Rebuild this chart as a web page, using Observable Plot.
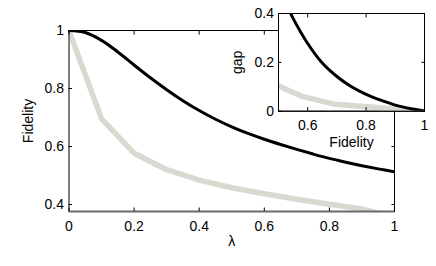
<!DOCTYPE html>
<html>
<head>
<meta charset="utf-8">
<script src="https://cdn.jsdelivr.net/npm/d3@7"></script>
<script src="https://cdn.jsdelivr.net/npm/@observablehq/plot@0.6"></script>
<style>
  body { margin: 0; background: white; }
  #wrap { position: relative; width: 436px; height: 266px; }
  #wrap > div { position: absolute; left: 0; top: 0; }
</style>
</head>
<body>
<div id="wrap"><div id="main"></div><div id="inset"></div></div>
<script>
// ---- main panel data ----
const lambdaBlack = [0, 0.05, 0.1, 0.15, 0.2, 0.25, 0.3, 0.35, 0.4, 0.45, 0.5, 0.55, 0.6, 0.65, 0.7, 0.75, 0.8, 0.85, 0.9, 0.95, 1];
const fidelityBlack = [1.0, 0.993, 0.966, 0.926, 0.881, 0.837, 0.796, 0.758, 0.724, 0.694, 0.668, 0.645, 0.625, 0.607, 0.590, 0.574, 0.559, 0.546, 0.534, 0.523, 0.513];
const lambdaGray = [0, 0.1, 0.2, 0.3, 0.4, 0.5, 0.6, 0.7, 0.8, 0.9, 1];
const fidelityGray = [1.0, 0.695, 0.577, 0.52, 0.484, 0.458, 0.437, 0.418, 0.401, 0.385, 0.355];
const mainXTicks = [0, 0.2, 0.4, 0.6, 0.8, 1];
const mainYTicks = [0.4, 0.6, 0.8, 1];

// ---- inset data ----
const insetFidBlack = [0.53, 0.55, 0.6, 0.65, 0.7, 0.75, 0.8, 0.85, 0.9, 0.95, 1];
const insetGapBlack = [0.43, 0.38, 0.277, 0.197, 0.142, 0.100, 0.069, 0.045, 0.025, 0.011, 0];
const insetFidGray = [0.485, 0.52, 0.577, 0.695, 1];
const insetGapGray = [0.113, 0.093, 0.062, 0.028, 0];
const insetXTicks = [0.6, 0.8, 1];
const insetYTicks = [0, 0.2, 0.4];

const GRAY = "#d8dad1";
const FONT = { fontFamily: "'Liberation Sans', Arial, Helvetica, sans-serif", fontSize: "14px", color: "black", background: "transparent" };
const fmt = d => String(d);

const blackMain = lambdaBlack.map((x, i) => ({x, y: fidelityBlack[i]}));
const grayMain = lambdaGray.map((x, i) => ({x, y: fidelityGray[i]}));
const blackInset = insetFidBlack.map((x, i) => ({x, y: insetGapBlack[i]}));
const grayInset = insetFidGray.map((x, i) => ({x, y: insetGapGray[i]}));

const yMin = 0.376;

const main = Plot.plot({
  width: 436, height: 266,
  marginLeft: 68.5, marginRight: 42, marginTop: 30, marginBottom: 55,
  style: FONT,
  x: {domain: [0, 1]},
  y: {domain: [yMin, 1]},
  marks: [
    Plot.line(grayMain, {x: "x", y: "y", stroke: GRAY, strokeWidth: 5.5, clip: true}),
    Plot.line(blackMain, {x: "x", y: "y", stroke: "black", strokeWidth: 3, curve: "catmull-rom", clip: true}),
    Plot.frame({stroke: "black"}),
    Plot.ruleY([yMin], {stroke: "#6a6a6a", strokeWidth: 1.8}),
    Plot.axisX({ticks: mainXTicks, tickSize: -3.5, tickFormat: () => "", label: null}),
    Plot.axisX({ticks: mainXTicks, anchor: "top", tickSize: -3.5, tickFormat: () => "", label: null}),
    Plot.axisY({ticks: mainYTicks, tickSize: -3.5, tickFormat: () => "", label: null}),
    Plot.axisY({ticks: mainYTicks, anchor: "right", tickSize: -3.5, tickFormat: () => "", label: null}),
    Plot.axisX({ticks: mainXTicks, tickSize: 0, tickPadding: 10, tickFormat: fmt, label: null, fontSize: 14}),
    Plot.axisY({ticks: mainYTicks, tickSize: 0, tickPadding: 5, tickFormat: fmt, label: null, fontSize: 14}),
    Plot.text(["Fidelity"], {frameAnchor: "left", dx: -40, rotate: -90, textAnchor: "middle", lineAnchor: "middle", fontSize: 14}),
    Plot.text(["λ"], {frameAnchor: "bottom", dy: 30, textAnchor: "middle", lineAnchor: "middle", fontSize: 14})
  ]
});
document.getElementById("main").append(main);

const inset = Plot.plot({
  width: 436, height: 266,
  marginLeft: 278, marginRight: 12, marginTop: 13, marginBottom: 155.3,
  style: FONT,
  x: {domain: [0.5, 1]},
  y: {domain: [0, 0.4]},
  marks: [
    Plot.frame({fill: "white", stroke: "black"}),
    Plot.line(grayInset, {x: "x", y: "y", stroke: GRAY, strokeWidth: 5.5, clip: true}),
    Plot.line(blackInset, {x: "x", y: "y", stroke: "black", strokeWidth: 3, curve: "catmull-rom", clip: true}),
    Plot.frame({stroke: "black"}),
    Plot.axisX({ticks: insetXTicks, tickSize: -3.5, tickFormat: () => "", label: null}),
    Plot.axisX({ticks: insetXTicks, anchor: "top", tickSize: -3.5, tickFormat: () => "", label: null}),
    Plot.axisY({ticks: insetYTicks, tickSize: -3.5, tickFormat: () => "", label: null}),
    Plot.axisY({ticks: insetYTicks, anchor: "right", tickSize: -3.5, tickFormat: () => "", label: null}),
    Plot.axisX({ticks: insetXTicks, tickSize: 0, tickPadding: 8.5, tickFormat: fmt, label: null, fontSize: 14}),
    Plot.axisY({ticks: insetYTicks, tickSize: 0, tickPadding: 4.5, tickFormat: fmt, label: null, fontSize: 14}),
    Plot.text(["gap"], {frameAnchor: "left", dx: -40.5, rotate: -90, textAnchor: "middle", lineAnchor: "middle", fontSize: 14}),
    Plot.text(["Fidelity"], {frameAnchor: "bottom", dy: 31, textAnchor: "middle", lineAnchor: "middle", fontSize: 14})
  ]
});
document.getElementById("inset").append(inset);
</script>
</body>
</html>
